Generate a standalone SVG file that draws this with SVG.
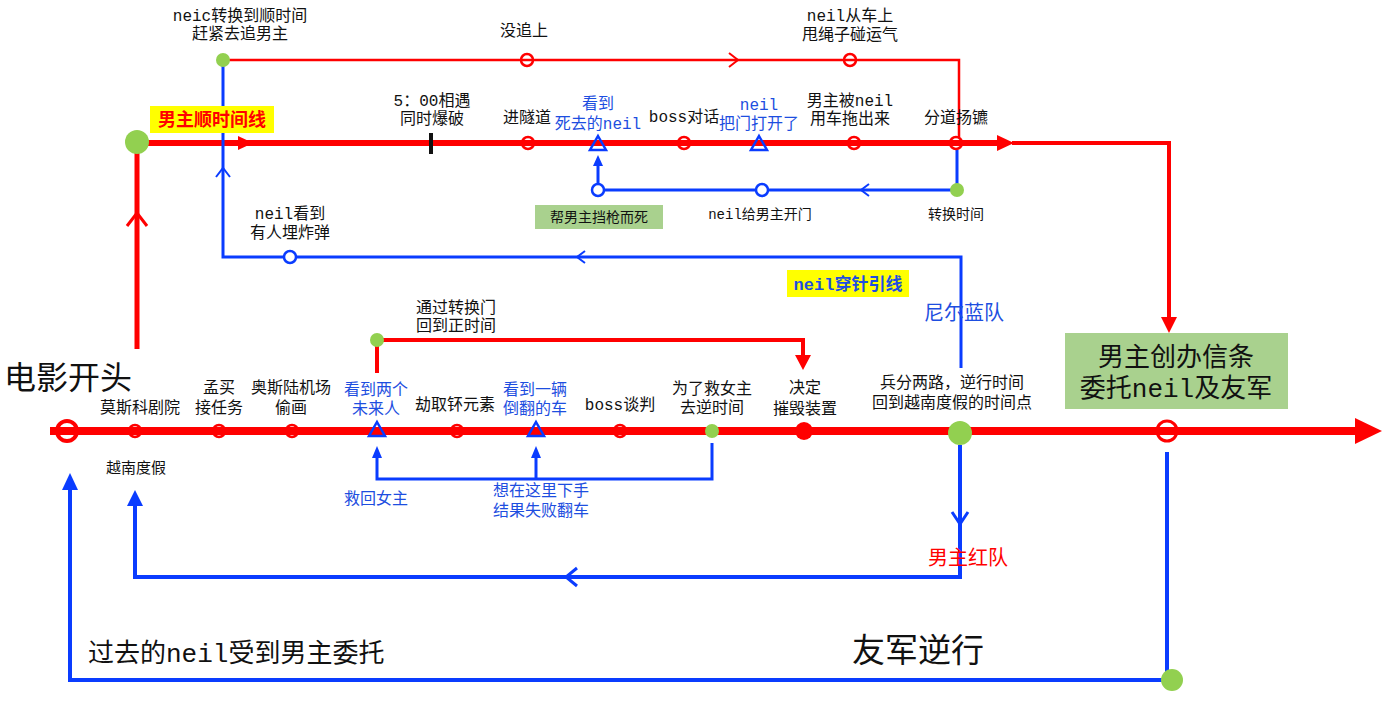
<svg xmlns="http://www.w3.org/2000/svg" width="1382" height="706" viewBox="0 0 1382 706">
<style>
text{font-family:"Liberation Mono","Noto Sans CJK SC",monospace;fill:#111;text-anchor:middle;font-size:16px}
.s14{font-size:14px}
.b{fill:#1d4ee0}
.r{fill:#f00}
.st{text-anchor:start}
.rl{stroke:#f00;fill:none}
.bl{stroke:#0a3cff;fill:none}
.rf{fill:#f00}
.bf{fill:#0a3cff}
.ring{fill:none;stroke:#f00;stroke-width:2.5}
.tri{fill:none;stroke:#0a3cff;stroke-width:2.5}
.g{fill:#92d050}
</style>
<rect width="1382" height="706" fill="#fff"/>

<g id="connectors">
  <line x1="50" y1="431" x2="1358" y2="431" class="rl" stroke-width="8"/>
  <polygon points="1355,418 1382,431 1355,444" class="rf"/>
  <line x1="137" y1="349" x2="137" y2="150" class="rl" stroke-width="5"/>
  <polyline points="127,226 137,213 147,226" class="rl" stroke-width="3"/>
  <line x1="148" y1="143" x2="1000" y2="143" class="rl" stroke-width="6"/>
  <polygon points="238,136 253,143 238,150" class="rf"/>
  <polygon points="997,135 1014,143 997,151" class="rf"/>
  <polyline points="1012,143 1169,143 1169,320" class="rl" stroke-width="4"/>
  <polygon points="1161,317 1169,333 1177,317" class="rf"/>
  <polyline points="223,60 959,60 959,137" class="rl" stroke-width="2.5"/>
  <polyline points="729,53 738,60 729,67" class="rl" stroke-width="2"/>
  <polyline points="957,150 957,190 598,190" class="bl" stroke-width="3"/>
  <line x1="598" y1="190" x2="598" y2="164" class="bl" stroke-width="3"/>
  <polygon points="593,166 598,155 603,166" class="bf"/>
  <polyline points="869,184 861,190 869,196" class="bl" stroke-width="2"/>
  <polyline points="961,368 961,257 223,257 223,66" class="bl" stroke-width="3"/>
  <polyline points="585,251 577,257 585,263" class="bl" stroke-width="2"/>
  <polyline points="216,177 223,168 230,177" class="bl" stroke-width="2"/>
  <polyline points="377,373 377,340 803,340 803,358" class="rl" stroke-width="4"/>
  <polygon points="795,355 803,370 811,355" class="rf"/>
  <polyline points="712,443 712,479 377,479 377,456" class="bl" stroke-width="3"/>
  <line x1="536" y1="479" x2="536" y2="456" class="bl" stroke-width="3"/>
  <polygon points="372,458 377,446 382,458" class="bf"/>
  <polygon points="531,458 536,446 541,458" class="bf"/>
  <polyline points="960,445 960,577 135,577 135,503" class="bl" stroke-width="4"/>
  <polygon points="127,506 135,490 143,506" class="bf"/>
  <polyline points="952,512 960,524 968,512" class="bl" stroke-width="3"/>
  <polyline points="577,568 566,577 577,586" class="bl" stroke-width="3"/>
  <polyline points="1167,452 1167,680 70,680 70,487" class="bl" stroke-width="4"/>
  <polygon points="62,490 70,473 78,490" class="bf"/>
</g>

<g id="start-top">
  <circle cx="137" cy="142" r="12" class="g"/>
  <rect x="150" y="106" width="124" height="27" fill="#ffff00"/>
  <text x="212" y="126" class="r" style="font-size:18px;font-weight:bold">男主顺时间线</text>
</g>
<g id="neil-switch">
  <circle cx="223" cy="60" r="7" class="g"/>
  <text x="240" y="21">neic转换到顺时间</text>
  <text x="240" y="39">赶紧去追男主</text>
</g>
<g id="miss">
  <circle cx="527" cy="60" r="6" class="ring"/>
  <text x="524" y="36">没追上</text>
</g>
<g id="rope">
  <circle cx="850" cy="60" r="6" class="ring"/>
  <text x="850" y="21">neil从车上</text>
  <text x="850" y="40">甩绳子碰运气</text>
</g>
<g id="blast">
  <line x1="431" y1="133" x2="431" y2="154" stroke="#111" stroke-width="4"/>
  <text x="432" y="106">5：00相遇</text>
  <text x="432" y="124">同时爆破</text>
</g>
<g id="tunnel">
  <circle cx="528" cy="143" r="6" class="ring"/>
  <text x="527" y="123">进隧道</text>
</g>
<g id="dead-neil">
  <polygon points="598,136 606,150 590,150" class="tri"/>
  <text x="598" y="109" class="b">看到</text>
  <text x="598" y="129" class="b">死去的neil</text>
</g>
<g id="boss-talk">
  <circle cx="684" cy="143" r="6" class="ring"/>
  <text x="684" y="122">boss对话</text>
</g>
<g id="door">
  <polygon points="759,136 767,150 751,150" class="tri"/>
  <text x="759" y="110" class="b">neil</text>
  <text x="759" y="129" class="b">把门打开了</text>
</g>
<g id="dragged">
  <circle cx="854" cy="143" r="6" class="ring"/>
  <text x="850" y="106">男主被neil</text>
  <text x="850" y="124">用车拖出来</text>
</g>
<g id="split">
  <circle cx="956" cy="143" r="6" class="ring"/>
  <text x="956" y="123">分道扬镳</text>
</g>
<g id="switch-time">
  <circle cx="957" cy="190" r="7" class="g"/>
  <text x="956" y="219" class="s14">转换时间</text>
</g>
<g id="open-door">
  <circle cx="762" cy="190" r="6" fill="#fff" stroke="#0a3cff" stroke-width="2.5"/>
  <text x="760" y="219" class="s14">neil给男主开门</text>
</g>
<g id="die">
  <circle cx="598" cy="190" r="6" fill="#fff" stroke="#0a3cff" stroke-width="2.5"/>
  <rect x="535" y="205" width="128" height="24" fill="#a9d18e"/>
  <text x="599" y="222" class="s14">帮男主挡枪而死</text>
</g>
<g id="bomb">
  <circle cx="290" cy="257" r="6" fill="#fff" stroke="#0a3cff" stroke-width="2.5"/>
  <text x="290" y="219">neil看到</text>
  <text x="290" y="238">有人埋炸弹</text>
</g>
<g id="neil-thread">
  <rect x="787" y="270" width="122" height="27" fill="#ffff00"/>
  <text x="848" y="290" class="b" style="font-size:17px;font-weight:bold">neil穿针引线</text>
</g>
<g id="blue-team">
  <text x="964" y="320" class="b" style="font-size:20px">尼尔蓝队</text>
</g>
<g id="tenet">
  <rect x="1065" y="333" width="223" height="76" fill="#a9d18e"/>
  <text x="1176" y="366" style="font-size:26px">男主创办信条</text>
  <text x="1176" y="397" style="font-size:26px">委托neil及友军</text>
</g>
<g id="gate">
  <circle cx="377" cy="340" r="7" class="g"/>
  <text x="416" y="313" class="st">通过转换门</text>
  <text x="416" y="331" class="st">回到正时间</text>
</g>

<g id="film-start">
  <circle cx="67" cy="431" r="10" fill="none" stroke="#f00" stroke-width="4"/>
  <text x="4" y="389" class="st" style="font-size:32px">电影开头</text>
</g>
<g id="moscow">
  <circle cx="135" cy="431" r="6" class="ring"/>
  <text x="140" y="413">莫斯科剧院</text>
</g>
<g id="mumbai">
  <circle cx="219" cy="431" r="6" class="ring"/>
  <text x="219" y="393">孟买</text>
  <text x="219" y="413">接任务</text>
</g>
<g id="oslo">
  <circle cx="292" cy="431" r="6" class="ring"/>
  <text x="291" y="393">奥斯陆机场</text>
  <text x="291" y="413">偷画</text>
</g>
<g id="two-future">
  <polygon points="377,422 385,436 369,436" class="tri"/>
  <text x="376" y="395" class="b">看到两个</text>
  <text x="376" y="414" class="b">未来人</text>
</g>
<g id="plutonium">
  <circle cx="457" cy="431" r="6" class="ring"/>
  <text x="455" y="410">劫取钚元素</text>
</g>
<g id="car">
  <polygon points="536,422 544,436 528,436" class="tri"/>
  <text x="535" y="395" class="b">看到一辆</text>
  <text x="535" y="414" class="b">倒翻的车</text>
</g>
<g id="boss-deal">
  <circle cx="620" cy="431" r="6" class="ring"/>
  <text x="620" y="410">boss谈判</text>
</g>
<g id="save">
  <circle cx="712" cy="431" r="7" class="g"/>
  <text x="712" y="394">为了救女主</text>
  <text x="712" y="413">去逆时间</text>
</g>
<g id="destroy">
  <circle cx="804" cy="431" r="9" class="rf"/>
  <text x="805" y="393">决定</text>
  <text x="805" y="414">摧毁装置</text>
</g>
<g id="two-ways">
  <circle cx="960" cy="433" r="12" class="g"/>
  <text x="952" y="388">兵分两路，逆行时间</text>
  <text x="952" y="408">回到越南度假的时间点</text>
</g>
<g id="end-circle">
  <circle cx="1167" cy="431" r="10" fill="none" stroke="#f00" stroke-width="3"/>
</g>
<g id="vietnam">
  <text x="136" y="473" style="font-size:15px">越南度假</text>
</g>
<g id="rescue">
  <text x="376" y="504" class="b">救回女主</text>
</g>
<g id="fail">
  <text x="541" y="496" class="b">想在这里下手</text>
  <text x="541" y="516" class="b">结果失败翻车</text>
</g>
<g id="red-team">
  <text x="968" y="565" class="r" style="font-size:20px">男主红队</text>
</g>
<g id="past-neil">
  <text x="88" y="662" class="st" style="font-size:26px">过去的neil受到男主委托</text>
</g>
<g id="friends">
  <circle cx="1172" cy="680" r="11" class="g"/>
  <text x="852" y="662" class="st" style="font-size:33px">友军逆行</text>
</g>
</svg>
